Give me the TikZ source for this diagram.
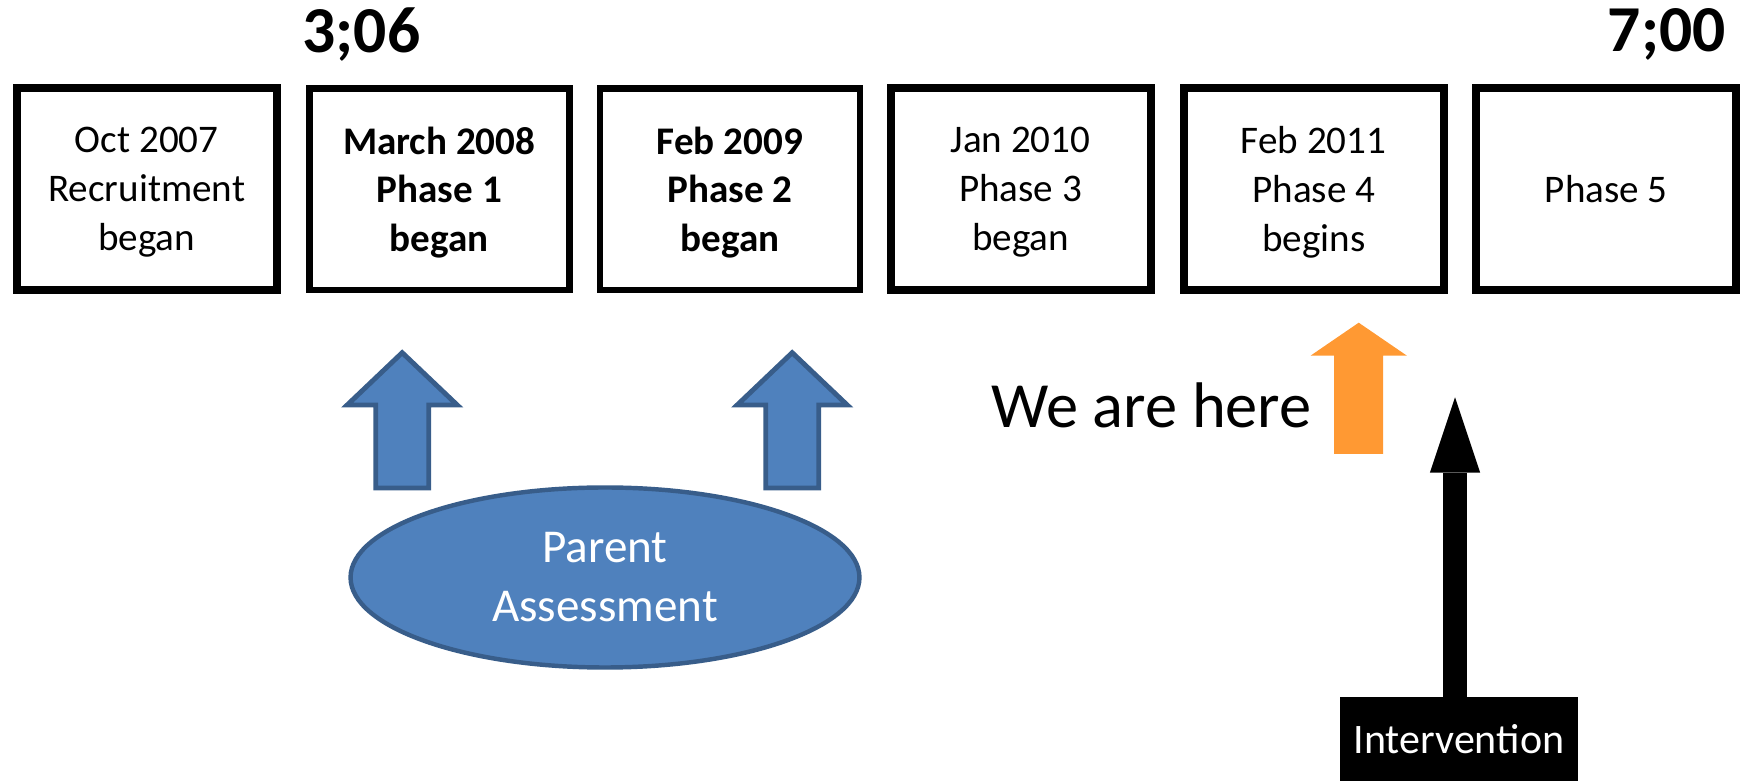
\documentclass[tikz,border=0pt]{standalone}
\usepackage{fontspec}
\setmainfont{Carlito}
\usetikzlibrary{shapes.geometric,arrows.meta}

\definecolor{assessfill}{RGB}{79,129,189}
\definecolor{assessline}{RGB}{56,93,138}
\definecolor{noworange}{RGB}{255,153,51}

% upward block arrow: axis x, tip y, head base y, bottom y, head half-width, shaft half-width, style
\newcommand\BlockUp[7]{%
  \path[#7] ({#1},{#2}) -- ({#1+#5},{#3}) -- ({#1+#6},{#3}) -- ({#1+#6},{#4})
    -- ({#1-#6},{#4}) -- ({#1-#6},{#3}) -- ({#1-#5},{#3}) -- cycle;}

\tikzset{
  phasebox/.style={draw=black, line width=3.6pt, minimum width=117pt,
    minimum height=90.8pt, inner sep=0pt, align=center, text depth=0pt,
    font=\fontsize{17.6}{22}\selectfont},
  thinbox/.style={phasebox, line width=2.9pt},
  agelabel/.style={font=\bfseries\fontsize{29.5}{35}\selectfont, inner sep=0pt},
  assessarrow/.style={fill=assessfill, draw=assessline, line width=2.2pt, line join=miter},
}

\begin{document}
\begin{tikzpicture}[x=0.45pt,y=-0.45pt]
\useasboundingbox (0,0) rectangle (1740,781);

% age labels
\node[agelabel, anchor=base west] (agestart) at (302,53) {3;06};
\node[agelabel, anchor=base east] (ageend) at (1726,52) {7;00};

% timeline of phases
\node[phasebox] (p0) at (146.7,189.2) {Oct 2007\\Recruitment\\began};
\node[thinbox, font=\bfseries\fontsize{17.6}{22}\selectfont] (p1) at (439.3,189.2) {March 2008\\Phase 1\\began};
\node[thinbox, font=\bfseries\fontsize{17.6}{22}\selectfont] (p2) at (730,189.2) {Feb 2009\\Phase 2\\began};
\node[phasebox] (p3) at (1020.5,189.2) {Jan 2010\\Phase 3\\began};
\node[phasebox] (p4) at (1313.7,189.2) {Feb 2011\\Phase 4\\begins};
\node[phasebox] (p5) at (1606.3,189.2) {Phase 5};

% parent assessment and its two arrows
\BlockUp{402.2}{352.7}{405}{488}{55}{26.5}{assessarrow}
\BlockUp{792.2}{352.7}{405}{488}{55}{26.5}{assessarrow}
\node[ellipse, fill=assessfill, draw=assessline, line width=2pt,
      minimum width=229pt, minimum height=81pt, inner sep=0pt, align=center,
      text=white, font=\fontsize{21.2}{26.5}\selectfont] (assess) at (605,577.5)
      {Parent\\Assessment};

% current position
\BlockUp{1358.7}{322.7}{355.7}{454}{48.2}{24.5}{fill=noworange}
\node[font=\fontsize{29}{35}\selectfont, anchor=base east, inner sep=0pt] (here) at (1312,428) {We are here};

% intervention
\node[fill=black, text=white, minimum width=107pt, minimum height=37.7pt,
      inner sep=0pt, font=\fontsize{18.9}{22}\selectfont] (intv) at (1458.9,739.2) {Intervention};
\coordinate (itip) at (1455,397.3);
\draw[line width=11.07pt, -{Triangle[width=22.6pt,length=33.9pt,line width=0pt]}]
  (intv.north -| itip) -- (itip);
\end{tikzpicture}
\end{document}
